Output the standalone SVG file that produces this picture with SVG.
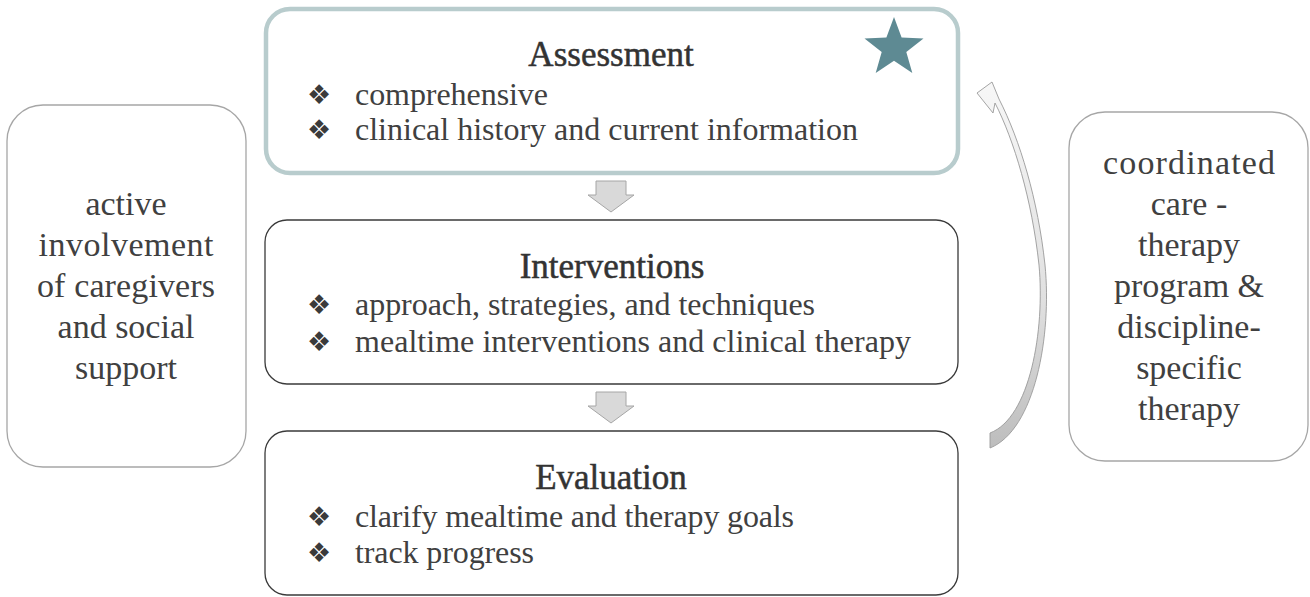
<svg xmlns="http://www.w3.org/2000/svg" width="1310" height="597" viewBox="0 0 1310 597">
  <style>
    .box { fill: #ffffff; stroke: #3a3a3a; stroke-width: 1.3; }
    .side { fill: #ffffff; stroke: #a6a6a6; stroke-width: 1.3; }
    .title { font-family: "Liberation Serif", serif; font-size: 35px; fill: #333333; stroke: #333333; stroke-width: 0.5; text-anchor: middle; }
    .item { font-family: "Liberation Serif", serif; font-size: 32px; fill: #404040; }
    .dot { font-family: "DejaVu Sans", sans-serif; font-size: 27px; fill: #3a3a3a; text-anchor: middle; }
    .big { font-family: "Liberation Serif", serif; font-size: 34px; fill: #404040; text-anchor: middle; }
    .down { fill: #d9d9d9; stroke: #a6a6a6; stroke-width: 1; }
  </style>
  <defs>
    <linearGradient id="loopFill" x1="0" y1="0" x2="0" y2="1">
      <stop offset="0" stop-color="#f7f7f7"/>
      <stop offset="0.6" stop-color="#e0e0e0"/>
      <stop offset="1" stop-color="#bdbdbd"/>
    </linearGradient>
  </defs>

  <rect width="1310" height="597" fill="#ffffff"/>

  <!-- connectors -->
  <g id="connectors">
    <path class="down" d="M596 181 H626 V195 H634 L611 212 L588 195 H596 Z"/>
    <path class="down" d="M596 392 H626 V406 H634 L611 423 L588 406 H596 Z"/>
    <path d="M990 448 C1035 430 1052 335 1045 265 C1038 200 1020 140 999 99 L992 82 L977 93 L993 113 L995 103 C1014 140 1032 200 1039 265 C1045 330 1030 418 990 433 Z"
          fill="url(#loopFill)" stroke="#9a9a9a" stroke-width="0.9" stroke-linejoin="round"/>
  </g>

  <!-- assessment -->
  <g id="assessment">
    <rect x="266" y="9" width="692" height="164" rx="24" fill="#ffffff" stroke="#b8cccd" stroke-width="4.5"/>
    <polygon fill="#5e8a93" points="894,17 901.6,37.6 923.5,38.4 906.3,51.9 912.3,73 894,60.8 875.7,73 881.7,51.9 864.5,38.4 886.4,37.6"/>
    <text class="title" x="611" y="66">Assessment</text>
    <text class="dot" x="319" y="104">❖</text>
    <text class="item" x="355" y="105" textLength="193">comprehensive</text>
    <text class="dot" x="319" y="139">❖</text>
    <text class="item" x="355" y="140" textLength="503">clinical history and current information</text>
  </g>

  <!-- interventions -->
  <g id="interventions">
    <rect class="box" x="265" y="220" width="693" height="164" rx="22"/>
    <text class="title" x="612" y="278">Interventions</text>
    <text class="dot" x="319" y="314">❖</text>
    <text class="item" x="355" y="315" textLength="460">approach, strategies, and techniques</text>
    <text class="dot" x="319" y="351">❖</text>
    <text class="item" x="355" y="352" textLength="556">mealtime interventions and clinical therapy</text>
  </g>

  <!-- evaluation -->
  <g id="evaluation">
    <rect class="box" x="265" y="431" width="693" height="164" rx="22"/>
    <text class="title" x="611" y="489">Evaluation</text>
    <text class="dot" x="319" y="526">❖</text>
    <text class="item" x="355" y="527" textLength="439">clarify mealtime and therapy goals</text>
    <text class="dot" x="319" y="562">❖</text>
    <text class="item" x="355" y="563" textLength="179">track progress</text>
  </g>

  <!-- caregivers -->
  <g id="caregivers">
    <rect class="side" x="7" y="105" width="239" height="362" rx="36"/>
    <text class="big" x="126" y="215">active</text>
    <text class="big" x="126" y="256" textLength="175">involvement</text>
    <text class="big" x="126" y="297" textLength="178">of caregivers</text>
    <text class="big" x="126" y="338">and social</text>
    <text class="big" x="126" y="379">support</text>
  </g>

  <!-- coordinated care -->
  <g id="coordinated">
    <rect class="side" x="1069" y="112" width="239" height="349" rx="36"/>
    <text class="big" x="1189" y="174" textLength="172">coordinated</text>
    <text class="big" x="1189" y="215">care -</text>
    <text class="big" x="1189" y="256">therapy</text>
    <text class="big" x="1189" y="297">program &amp;</text>
    <text class="big" x="1189" y="338">discipline-</text>
    <text class="big" x="1189" y="379">specific</text>
    <text class="big" x="1189" y="420">therapy</text>
  </g>
</svg>
